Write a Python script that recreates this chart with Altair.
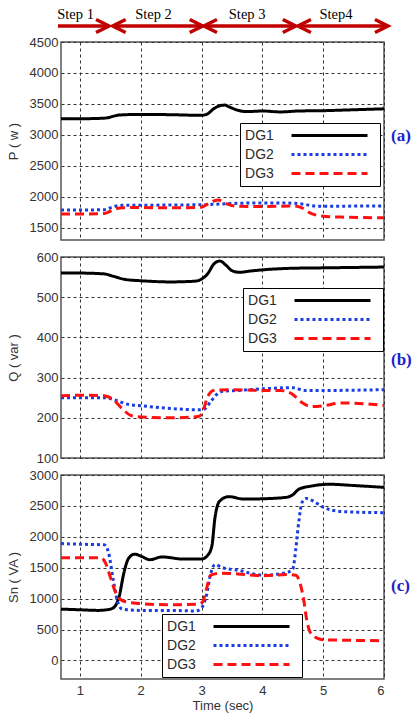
import altair as alt
import pandas as pd

SERIES = ["DG1", "DG2", "DG3"]
COLORS = ["#000000", "#1a3de0", "#ff1010"]
DASHES = [[1, 0], [3, 3], [9, 5]]
TIME_TICKS = [1, 2, 3, 4, 5, 6]

# ---- Panel (a): active power P (W)
P_DG1_t = [0.69, 1.0, 1.3, 1.45, 1.55, 1.65, 2.0, 2.5, 3.0, 3.1, 3.2, 3.3, 3.38, 3.48, 3.6, 3.75, 4.0, 4.3, 4.6, 5.0, 5.5, 6.0]
P_DG1 = [3260, 3260, 3265, 3275, 3300, 3320, 3330, 3325, 3315, 3340, 3420, 3470, 3480, 3440, 3395, 3375, 3385, 3370, 3385, 3390, 3405, 3420]
P_DG2_t = [0.69, 1.0, 1.4, 1.5, 1.6, 1.7, 2.0, 2.5, 3.0, 3.5, 4.0, 4.5, 4.7, 4.85, 5.0, 5.5, 6.0]
P_DG2 = [1785, 1785, 1790, 1820, 1850, 1860, 1862, 1865, 1870, 1890, 1900, 1895, 1875, 1850, 1845, 1848, 1850]
P_DG3_t = [0.69, 1.0, 1.4, 1.5, 1.6, 1.7, 2.0, 2.5, 3.0, 3.1, 3.2, 3.28, 3.4, 3.55, 4.0, 4.5, 4.65, 4.8, 4.95, 5.3, 6.0]
P_DG3 = [1720, 1720, 1730, 1765, 1805, 1820, 1825, 1820, 1830, 1880, 1930, 1945, 1890, 1850, 1840, 1850, 1820, 1730, 1690, 1670, 1660]

# ---- Panel (b): reactive power Q (var)
Q_DG1_t = [0.69, 1.0, 1.4, 1.55, 1.75, 2.0, 2.5, 2.9, 3.0, 3.1, 3.2, 3.3, 3.4, 3.5, 3.62, 3.8, 4.0, 4.5, 5.0, 6.0]
Q_DG1 = [560, 560, 558, 552, 544, 541, 538, 540, 545, 558, 582, 590, 580, 566, 562, 565, 568, 572, 573, 575]
Q_DG2_t = [0.69, 1.0, 1.4, 1.6, 1.8, 2.0, 2.5, 2.95, 3.05, 3.15, 3.25, 3.35, 3.6, 4.0, 4.5, 4.7, 5.0, 6.0]
Q_DG2 = [250, 250, 250, 243, 233, 230, 223, 220, 222, 240, 258, 266, 268, 272, 275, 268, 268, 270]
Q_DG3_t = [0.69, 1.0, 1.4, 1.55, 1.7, 1.85, 2.0, 2.5, 2.95, 3.02, 3.1, 3.2, 3.5, 4.0, 4.3, 4.5, 4.65, 4.8, 5.0, 5.3, 6.0]
Q_DG3 = [255, 256, 255, 245, 222, 205, 202, 200, 203, 215, 252, 268, 270, 268, 268, 258, 238, 228, 230, 237, 231]

# ---- Panel (c): apparent power Sn (VA)
S_DG1_t = [0.69, 1.0, 1.3, 1.5, 1.58, 1.65, 1.72, 1.8, 1.9, 2.0, 2.15, 2.35, 2.7, 3.0, 3.1, 3.17, 3.22, 3.3, 3.45, 3.7, 4.0, 4.4, 4.5, 4.6, 4.8, 5.1, 5.5, 6.0]
S_DG1 = [830, 820, 810, 830, 880, 1050, 1400, 1650, 1720, 1690, 1630, 1675, 1640, 1640, 1700, 1850, 2300, 2580, 2650, 2610, 2615, 2640, 2680, 2770, 2820, 2850, 2830, 2800]
S_DG2_t = [0.69, 1.0, 1.4, 1.47, 1.55, 1.62, 1.7, 2.0, 2.5, 2.9, 3.0, 3.08, 3.15, 3.22, 3.35, 3.6, 4.0, 4.4, 4.5, 4.55, 4.6, 4.65, 4.72, 4.85, 5.0, 5.3, 6.0]
S_DG2 = [1890, 1880, 1870, 1750, 1300, 950, 830, 810, 810, 800, 850, 1050, 1400, 1550, 1500, 1460, 1380, 1420, 1480, 1800, 2250, 2550, 2620, 2570, 2480, 2410, 2390]
S_DG3_t = [0.69, 1.0, 1.35, 1.42, 1.5, 1.58, 1.65, 1.75, 2.0, 2.5, 2.95, 3.02, 3.08, 3.15, 3.3, 3.6, 4.0, 4.4, 4.55, 4.62, 4.68, 4.73, 4.8, 4.9, 5.0, 6.0]
S_DG3 = [1660, 1660, 1660, 1580, 1350, 1120, 1000, 950, 920, 900, 910, 950, 1150, 1380, 1410, 1400, 1370, 1390, 1380, 1250, 980, 650, 430, 360, 335, 320]

# ---- Step annotations
STEP_LABELS = ["Step 1", "Step 2", "Step 3", "Step4"]
STEP_START = [0.64, 1.54, 3.04, 4.585]
STEP_END = [1.48, 3.02, 4.55, 6.065]
STEP_LEFT_HEAD = [False, True, True, True]
STEP_LABEL_X = [0.93, 2.21, 3.75, 5.21]

X_DOMAIN = [0.69, 6.0]
WIDTH = 323
# legend line sample drawn to the right of its label
LEGEND_LINE = "M7.09,0H20.91"


def long_df(ts, vs):
    rows = []
    for name, t, v in zip(SERIES, ts, vs):
        for ti, vi in zip(t, v):
            rows.append({"series": name, "t": ti, "v": vi})
    return pd.DataFrame(rows)


def panel(df, ytitle, ydomain, yticks, height, legx, legy, tag, tagy, bottom):
    leg = alt.Legend(
        title=None, orient="none", legendX=legx, legendY=legy,
        symbolType=LEGEND_LINE, symbolSize=121, symbolStrokeWidth=3,
        symbolOffset=0, labelOffset=0, labelAlign="center", rowPadding=5, padding=5.5,
        strokeColor="black", fillColor="white",
        labelFont="Liberation Sans", labelFontSize=14, labelColor="#2b2b2b",
    )
    xaxis = alt.Axis(values=TIME_TICKS, labels=bottom, title="Time (sec)" if bottom else None,
                     titlePadding=2, labelPadding=5, format="d")
    lines = alt.Chart(df).mark_line(strokeWidth=3, clip=True, interpolate="monotone").encode(
        x=alt.X("t:Q", scale=alt.Scale(domain=X_DOMAIN, nice=False, zero=False), axis=xaxis),
        y=alt.Y("v:Q", scale=alt.Scale(domain=ydomain, nice=False, zero=False),
                axis=alt.Axis(values=yticks, title=ytitle, titleX=-41, format="d")),
        color=alt.Color("series:N", scale=alt.Scale(domain=SERIES, range=COLORS), legend=leg),
        strokeDash=alt.StrokeDash("series:N", scale=alt.Scale(domain=SERIES, range=DASHES), legend=leg),
    )
    tag_mark = alt.Chart(pd.DataFrame({"tag": [tag]})).mark_text(
        font="Liberation Serif", fontSize=17, fontWeight="bold", color="#2020cc",
        align="left", baseline="middle",
    ).encode(text="tag:N", x=alt.value(WIDTH + 7), y=alt.value(tagy))
    return alt.layer(lines, tag_mark).properties(width=WIDTH, height=height)


dfP = long_df([P_DG1_t, P_DG2_t, P_DG3_t], [P_DG1, P_DG2, P_DG3])
dfQ = long_df([Q_DG1_t, Q_DG2_t, Q_DG3_t], [Q_DG1, Q_DG2, Q_DG3])
dfS = long_df([S_DG1_t, S_DG2_t, S_DG3_t], [S_DG1, S_DG2, S_DG3])

pa = panel(dfP, "P ( w )", [1300, 4500], [1500, 2000, 2500, 3000, 3500, 4000, 4500], 198, 179, 81, "(a)", 94, False)
pb = panel(dfQ, "Q ( var )", [100, 600], [100, 200, 300, 400, 500, 600], 201, 182, 31, "(b)", 103, False)
pc = panel(dfS, "Sn ( VA )", [-300, 3000], [0, 500, 1000, 1500, 2000, 2500, 3000], 204, 101, 139, "(c)", 111, True)

# Step arrows layered above panel (a)
steps = pd.DataFrame({"label": STEP_LABELS, "start": STEP_START, "end": STEP_END,
                      "left": STEP_LEFT_HEAD, "mid": STEP_LABEL_X})
RED = "#c00000"
ARROW_Y = -16
xs = alt.Scale(domain=X_DOMAIN, nice=False, zero=False)
rule = alt.Chart(steps).mark_rule(color=RED, strokeWidth=3.5).encode(
    x=alt.X("start:Q", scale=xs), x2="end:Q", y=alt.value(ARROW_Y))
rhead = alt.Chart(steps).mark_point(shape="M-2,-1L0,0L-2,1", filled=False, size=169,
                                     color=RED, strokeWidth=3.5, opacity=1).encode(
    x=alt.X("end:Q", scale=xs), y=alt.value(ARROW_Y))
lhead = alt.Chart(steps).transform_filter("datum.left").mark_point(
    shape="M2,-1L0,0L2,1", filled=False, size=169, color=RED, strokeWidth=3.5, opacity=1).encode(
    x=alt.X("start:Q", scale=xs), y=alt.value(ARROW_Y))
stext = alt.Chart(steps).mark_text(font="Liberation Serif", fontSize=14.5, color="black",
                                   baseline="alphabetic").encode(
    x=alt.X("mid:Q", scale=xs), y=alt.value(-23), text="label:N")

pa = alt.layer(pa, rule, rhead, lhead, stext)

chart = alt.vconcat(pa, pb, pc, spacing=17, bounds="flush").resolve_scale(
    color="independent", strokeDash="independent"
).resolve_legend(
    color="independent", strokeDash="independent"
).configure(
    padding={"left": 6, "top": 6, "right": 0, "bottom": 0}
).configure_view(stroke="#555", strokeWidth=1.5).configure_axis(
    grid=True, gridColor="#333", gridDash=[3, 3], gridWidth=1, gridOpacity=1,
    domain=False, ticks=False, labelPadding=3,
    labelFont="Liberation Sans", labelFontSize=13, labelColor="#333",
    titleFont="Liberation Sans", titleFontSize=13, titleColor="#333", titleFontWeight="normal",
)

chart.save("out.html", embed_options={"renderer": "svg", "actions": False})
